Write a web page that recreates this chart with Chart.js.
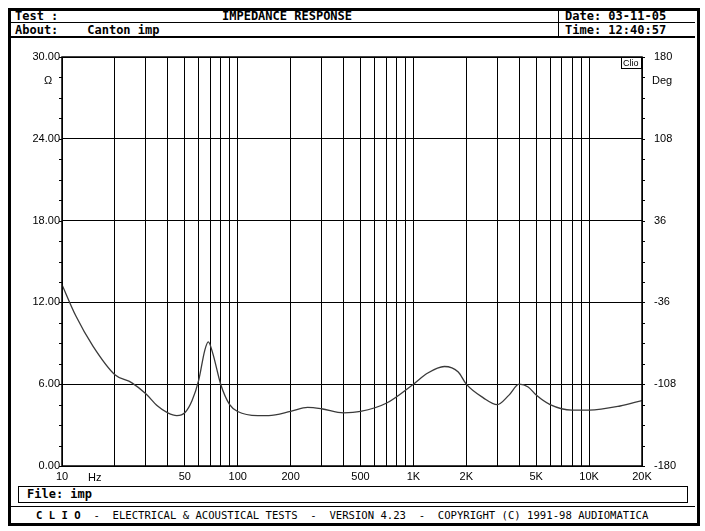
<!DOCTYPE html>
<html><head><meta charset="utf-8">
<script src="https://cdn.jsdelivr.net/npm/chart.js@4"></script>
<style>
body{margin:0;background:#fff;width:705px;height:531px;position:relative;overflow:hidden;font-family:"DejaVu Sans Mono",monospace;}
#frame{position:absolute;left:8px;top:8px;width:686px;height:512px;border:3px solid #000;}
.t{position:absolute;font-weight:bold;font-size:12px;color:#000;white-space:pre;}
.hl{position:absolute;background:#000;}
canvas{position:absolute;left:0;top:0;}
</style></head><body>
<div id="frame"></div>
<div class="hl" style="left:10px;top:22px;width:685px;height:1px"></div>
<div class="hl" style="left:10px;top:36px;width:685px;height:2px"></div>
<div class="hl" style="left:558px;top:10px;width:1px;height:27px"></div>
<div class="t" style="left:15px;top:9px">Test :</div>
<div class="t" style="left:222px;top:9px">IMPEDANCE RESPONSE</div>
<div class="t" style="left:565px;top:9px">Date: 03-11-05</div>
<div class="t" style="left:15px;top:23px">About:    Canton imp</div>
<div class="t" style="left:565px;top:23px">Time: 12:40:57</div>
<div style="position:absolute;left:18px;top:486px;width:668px;height:15px;border:1px solid #000"></div>
<div class="t" style="left:27px;top:487px">File: imp</div>
<div class="hl" style="left:10px;top:506px;width:685px;height:1px"></div>
<div class="t" style="left:36px;top:509px;font-size:10.6px;font-weight:normal"><b>C L I O</b>  -  ELECTRICAL &amp; ACOUSTICAL TESTS  -  VERSION 4.23  -  COPYRIGHT (C) 1991-98 AUDIOMATICA</div>
<canvas id="c" width="705" height="531"></canvas>
<script>
const freqs=[10,12,15,20,25,30,35,40,45,50,55,60,65,68,72,80,90,100,130,150,200,250,300,400,500,700,1000,1200,1500,1800,2000,2500,3000,3500,4000,4500,5000,6000,8000,10000,15000,20000];
const ohms=[13.3,11,8.8,6.7,6.1,5.3,4.4,3.9,3.7,3.9,4.8,6.3,8.5,9.1,8.3,6.0,4.5,4.0,3.7,3.7,4.0,4.3,4.2,3.9,4.0,4.6,6.0,6.8,7.3,6.9,6.0,5.0,4.5,5.2,6.0,5.8,5.2,4.5,4.1,4.1,4.4,4.8];
const xTicks=[10,20,30,40,50,60,70,80,90,100,200,300,400,500,600,700,800,900,1000,2000,3000,4000,5000,6000,7000,8000,9000,10000,20000];
const xLabels={10:"10",50:"50",100:"100",200:"200",500:"500",1000:"1K",2000:"2K",5000:"5K",10000:"10K",20000:"20K"};
const leftTicks=[0,6,12,18,24,30];
const rightTicks=[-180,-108,-36,36,108,180];
const F="'Liberation Sans Narrow','Liberation Sans',sans-serif";
const extra={id:'extra',afterDraw(c){const x=c.ctx,a=c.chartArea;x.save();x.fillStyle='#000';x.font='11px '+F;
x.textAlign='left';x.fillText('Hz',88,481);x.fillText('Ω',44,84);x.fillText('Deg',652,84);
x.strokeStyle='#000';x.lineWidth=1;x.strokeRect(a.right-20.5,a.top+0.5,20,11);x.font='9px '+F;x.fillText('Clio',a.right-19,a.top+9);
x.beginPath();for(let v=0;v<=30;v+=1.5){const y=Math.round(c.scales.y.getPixelForValue(v))+0.5;x.moveTo(a.left-3,y);x.lineTo(a.left,y);x.moveTo(a.right,y);x.lineTo(a.right+3,y);}x.stroke();
x.lineWidth=1.5;x.strokeRect(a.left,a.top,a.right-a.left,a.bottom-a.top);x.restore();}};
new Chart(document.getElementById('c'),{type:'line',
data:{datasets:[{data:freqs.map((f,i)=>({x:f,y:ohms[i]})),borderColor:'#3a3a3a',borderWidth:1.3,pointRadius:0,tension:0.4,cubicInterpolationMode:'monotone'}]},
options:{responsive:false,animation:false,plugins:{legend:{display:false},tooltip:{enabled:false}},
layout:{padding:{left:8,right:8,top:57,bottom:35}},
scales:{
x:{type:'logarithmic',min:10,max:20000,afterBuildTicks(s){s.ticks=xTicks.map(v=>({value:v}));},afterFit(s){s.height=30;},
 grid:{color:'#000',lineWidth:1,drawTicks:false},border:{display:false},
 ticks:{autoSkip:false,maxRotation:0,color:'#000',font:{family:F,size:11},padding:4,callback:(v)=>xLabels[v]||''}},
y:{min:0,max:30,afterBuildTicks(s){s.ticks=leftTicks.map(v=>({value:v}));},afterFit(s){s.width=54;},
 grid:{color:'#000',lineWidth:1,drawTicks:false},border:{display:false},
 ticks:{color:'#000',font:{family:F,size:11},padding:2,callback:v=>v.toFixed(2)}},
y1:{position:'right',min:-180,max:180,afterBuildTicks(s){s.ticks=rightTicks.map(v=>({value:v}));},afterFit(s){s.width=55;},
 grid:{display:false},border:{display:false},
 ticks:{color:'#000',font:{family:F,size:11},padding:4,callback:v=>String(v)}}
}},plugins:[extra]});
</script></body></html>
